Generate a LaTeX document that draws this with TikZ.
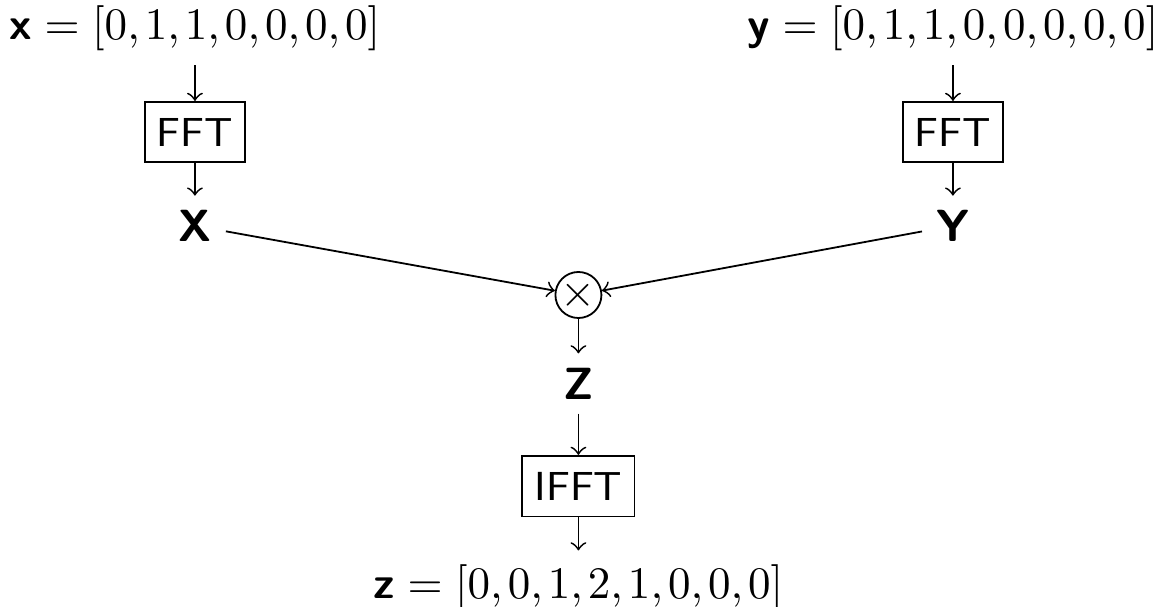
\documentclass[tikz,border=0pt]{standalone}
\usepackage{amsmath}
\newcommand{\tightmath}{\thinmuskip=2mu\relax}
\tikzset{
  blk/.style={draw,inner xsep=2.7pt,inner ysep=3.6pt,font=\sffamily\small},
  sig/.style={inner sep=3pt,font=\tightmath},
  mult/.style={circle,draw,inner sep=0pt,minimum size=0.34cm},
  flow/.style={->},
}
\newcommand{\vb}[1]{\textsf{\textbf{#1}}}

\begin{document}
\begin{tikzpicture}
  \useasboundingbox (-4.51,-2.43) rectangle (4.55,2.30);
  % two inputs, each through its own FFT
  \node[sig] (xin) at (-2.99,2.08) {$\vb{x} = [0,1,1,0,0,0,0]$};
  \node[sig] (yin) at (2.92,2.08) {$\vb{y} = [0,1,1,0,0,0,0,0]$};
  \node[blk] (fftx) at (-2.99,1.27) {FFT};
  \node[blk] (ffty) at (2.92,1.27) {FFT};
  \node[sig] (X) at (-2.99,0.54) {\vb{X}};
  \node[sig] (Y) at (2.92,0.54) {\vb{Y}};
  % pointwise product and back
  \node[mult] (mul) at (0,0) {$\times$};
  \node[sig] (Z) at (0,-0.69) {\vb{Z}};
  \node[blk] (ifft) at (0,-1.49) {IFFT};
  \node[sig] (zout) at (0,-2.28) {$\vb{z} = [0,0,1,2,1,0,0,0]$};
  \draw[flow] (xin) -- (fftx);
  \draw[flow] (fftx) -- (X);
  \draw[flow] (yin) -- (ffty);
  \draw[flow] (ffty) -- (Y);
  \draw[flow] (X) -- (mul);
  \draw[flow] (Y) -- (mul);
  \draw[flow] (mul) -- (Z);
  \draw[flow] (Z) -- (ifft);
  \draw[flow] (ifft) -- (zout);
\end{tikzpicture}
\end{document}
